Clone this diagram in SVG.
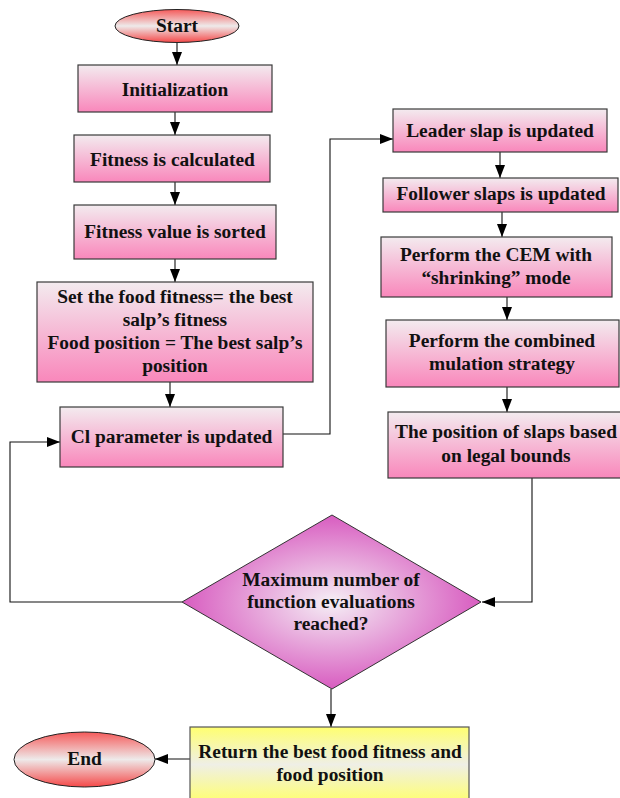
<svg xmlns="http://www.w3.org/2000/svg" width="620" height="798" viewBox="0 0 620 798">
<defs>
<linearGradient id="gBox" x1="0" y1="0" x2="0" y2="1">
<stop offset="0" stop-color="#f3ebef"/>
<stop offset="1" stop-color="#f987bb"/>
</linearGradient>
<linearGradient id="gOval" x1="0" y1="0" x2="0" y2="1">
<stop offset="0" stop-color="#f55a5a"/>
<stop offset="0.5" stop-color="#eeeaea"/>
<stop offset="1" stop-color="#f54848"/>
</linearGradient>
<linearGradient id="gYellow" x1="0" y1="0" x2="0" y2="1">
<stop offset="0" stop-color="#ffff70"/>
<stop offset="0.5" stop-color="#efefe6"/>
<stop offset="1" stop-color="#ffff70"/>
</linearGradient>
<radialGradient id="gDiamond" cx="0.5" cy="0.5" r="0.5">
<stop offset="0" stop-color="#f5eff5"/>
<stop offset="1" stop-color="#d85cc0"/>
</radialGradient>
<marker id="arr" viewBox="0 0 13 10" refX="13" refY="5" markerWidth="13" markerHeight="10" markerUnits="userSpaceOnUse" orient="auto">
<path d="M0,0 L13,5 L0,10 z" fill="#000"/>
</marker>
<style>
.box{fill:url(#gBox);stroke:#3a3a3a;stroke-width:1.2}
.oval{fill:url(#gOval);stroke:#222;stroke-width:1}
.ybox{fill:url(#gYellow);stroke:#555;stroke-width:1.2}
.dia{fill:url(#gDiamond);stroke:#333;stroke-width:1}
text{font-family:"Liberation Serif","Times New Roman",serif;font-weight:bold;font-size:19.4px;fill:#111;text-anchor:middle}
.c{fill:none;stroke:#111;stroke-width:1.1;marker-end:url(#arr)}
</style>
</defs>
<g id="connectors">
<path class="c" d="M177 42 V65"/>
<path class="c" d="M175 112 V135"/>
<path class="c" d="M175 182 V205"/>
<path class="c" d="M175 259 V282"/>
<path class="c" d="M170 382 V407"/>
<path class="c" d="M283 434 H330 V139 H393"/>
<path class="c" d="M500 152 V178"/>
<path class="c" d="M502 212 V237"/>
<path class="c" d="M507 297 V320"/>
<path class="c" d="M507 387 V412"/>
<path class="c" d="M532 478 V602 H482"/>
<path class="c" d="M182 602 H10 V442 H60"/>
<path class="c" d="M331 689 V727"/>
<path class="c" d="M190 759 H155"/>
</g>
<g id="start">
<ellipse class="oval" cx="177" cy="26" rx="62" ry="16.5"/>
<text x="177" y="32">Start</text>
</g>
<g id="init">
<rect class="box" x="78" y="65" width="194" height="47"/>
<text x="175" y="96">Initialization</text>
</g>
<g id="calc">
<rect class="box" x="74" y="135" width="196" height="47"/>
<text x="172.5" y="166">Fitness is calculated</text>
</g>
<g id="sorted">
<rect class="box" x="74" y="205" width="202" height="54"/>
<text x="175" y="238">Fitness value is sorted</text>
</g>
<g id="setfood">
<rect class="box" x="37" y="282" width="276" height="100"/>
<text x="175" y="303">Set the food fitness= the best</text>
<text x="175" y="326">salp’s fitness</text>
<text x="175" y="349">Food position = The best salp’s</text>
<text x="175" y="372">position</text>
</g>
<g id="cl">
<rect class="box" x="60" y="407" width="223" height="60"/>
<text x="171.5" y="443">Cl parameter is updated</text>
</g>
<g id="leader">
<rect class="box" x="393" y="109" width="214" height="43"/>
<text x="500" y="137">Leader slap is updated</text>
</g>
<g id="follower">
<rect class="box" x="383" y="178" width="235" height="34"/>
<text x="501" y="200">Follower slaps is updated</text>
</g>
<g id="cem">
<rect class="box" x="381" y="237" width="231" height="60"/>
<text x="496" y="261">Perform the CEM with</text>
<text x="496" y="284">“shrinking” mode</text>
</g>
<g id="combined">
<rect class="box" x="386" y="320" width="233" height="67"/>
<text x="502" y="347">Perform the combined</text>
<text x="502" y="370">mulation strategy</text>
</g>
<g id="position">
<rect class="box" x="388" y="412" width="234" height="66"/>
<text x="506" y="438">The position of slaps based</text>
<text x="506" y="462">on legal bounds</text>
</g>
<g id="decision">
<polygon class="dia" points="332,515 481,602 332,689 182,602"/>
<text x="331" y="586">Maximum number of</text>
<text x="331" y="608">function evaluations</text>
<text x="331" y="630">reached?</text>
</g>
<g id="return">
<rect class="ybox" x="190" y="727" width="279" height="75"/>
<text x="330" y="758">Return the best food fitness and</text>
<text x="330" y="781">food position</text>
</g>
<g id="end">
<ellipse class="oval" cx="84.5" cy="759.5" rx="70.5" ry="27.5"/>
<text x="84.5" y="765">End</text>
</g>
</svg>
